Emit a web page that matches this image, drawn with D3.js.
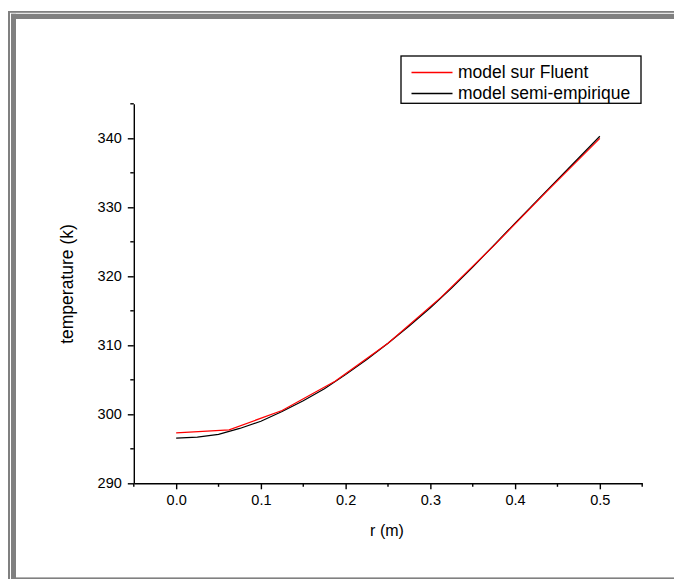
<!DOCTYPE html>
<html>
<head>
<meta charset="utf-8">
<script src="https://cdn.jsdelivr.net/npm/d3@7"></script>
<style>
  html, body { margin: 0; padding: 0; background: #fff; }
  svg { display: block; font-family: "Liberation Sans", Arial, sans-serif; }
</style>
</head>
<body>
<svg id="chart" width="674" height="579"></svg>
<script>
// Radial positions (m) and temperatures (K)
const rFluent = [0, 0.0625, 0.125, 0.1875, 0.25, 0.3125, 0.375, 0.4375, 0.5];
const tFluent = [297.3, 297.75, 300.55, 304.8, 310.3, 316.95, 324.45, 332.3, 340.0];

const rSemi = [0, 0.025, 0.05, 0.075, 0.1, 0.125, 0.15, 0.175, 0.2, 0.225, 0.25,
               0.275, 0.3, 0.325, 0.35, 0.375, 0.4, 0.425, 0.45, 0.475, 0.5];
const tSemi = [296.55, 296.7, 297.1, 297.95, 299.0, 300.4, 301.95, 303.7, 305.75, 307.95, 310.3,
               312.8, 315.45, 318.3, 321.35, 324.5, 327.7, 330.85, 334.0, 337.15, 340.3];

const xTicks = [0.0, 0.1, 0.2, 0.3, 0.4, 0.5];
const yTicks = [290, 300, 310, 320, 330, 340];
const xMinorTicks = [-0.05, 0.05, 0.15, 0.25, 0.35, 0.45, 0.55];
const yMinorTicks = [295, 305, 315, 325, 335, 345];

const seriesNames = ["model sur Fluent", "model semi-empirique"];
const seriesColors = ["#ff0000", "#000000"];

const svg = d3.select("#chart");

// Window frame
const gray = "#808080";
svg.append("rect").attr("x", 8).attr("y", 11).attr("width", 666).attr("height", 1.8).attr("fill", gray);
svg.append("rect").attr("x", 8).attr("y", 11).attr("width", 2).attr("height", 568).attr("fill", gray);
svg.append("rect").attr("x", 11).attr("y", 13.8).attr("width", 663).attr("height", 5.2).attr("fill", gray);
svg.append("rect").attr("x", 11).attr("y", 13.8).attr("width", 5).attr("height", 566).attr("fill", gray);
svg.append("rect").attr("x", 16).attr("y", 577.4).attr("width", 658).attr("height", 1.6).attr("fill", gray);

const x = d3.scaleLinear().domain([-0.05, 0.55]).range([133.8, 642.2]);
const y = d3.scaleLinear().domain([290, 345]).range([483.3, 103.8]);

const fontSize = 14.5;

// X axis
const xAxis = svg.append("g").attr("transform", `translate(0,${y(290)})`)
  .call(d3.axisBottom(x).tickValues(xTicks).tickFormat(d3.format(".1f")).tickSize(6).tickSizeOuter(0).tickPadding(5));
xAxis.append("g").selectAll("line").data(xMinorTicks).join("line")
  .attr("x1", d => x(d)).attr("x2", d => x(d)).attr("y1", 0).attr("y2", 3.5);

// Y axis
const yAxis = svg.append("g").attr("transform", `translate(${x(-0.05)},0)`)
  .call(d3.axisLeft(y).tickValues(yTicks).tickFormat(d3.format("d")).tickSize(6).tickSizeOuter(0).tickPadding(6));
yAxis.append("g").selectAll("line").data(yMinorTicks).join("line")
  .attr("x1", 0).attr("x2", -3.5).attr("y1", d => y(d)).attr("y2", d => y(d));

[xAxis, yAxis].forEach(g => {
  g.selectAll("path.domain").attr("stroke", "#000").attr("stroke-width", 1.4);
  g.selectAll("line").attr("stroke", "#000").attr("stroke-width", 1.4);
  g.selectAll("text").attr("font-size", fontSize).attr("fill", "#000")
    .attr("font-family", "'Liberation Sans', Arial, sans-serif");
});

// Axis titles
svg.append("text").attr("x", 387).attr("y", 536).attr("text-anchor", "middle")
  .attr("font-size", 16).text("r (m)");
svg.append("text").attr("transform", "translate(72.5,284) rotate(-90)").attr("text-anchor", "middle")
  .attr("font-size", 17.5).text("temperature (k)");

// Curves
const line = d3.line().x(d => x(d[0])).y(d => y(d[1]));
const semiData = rSemi.map((r, i) => [r, tSemi[i]]);
const fluentData = rFluent.map((r, i) => [r, tFluent[i]]);

svg.append("path").datum(semiData).attr("d", line)
  .attr("fill", "none").attr("stroke", seriesColors[1]).attr("stroke-width", 1.2);
svg.append("path").datum(fluentData).attr("d", line)
  .attr("fill", "none").attr("stroke", seriesColors[0]).attr("stroke-width", 1.2);

// Legend
const legend = svg.append("g");
legend.append("rect").attr("x", 401).attr("y", 56).attr("width", 240).attr("height", 47.3)
  .attr("fill", "#fff").attr("stroke", "#000").attr("stroke-width", 1.3);
seriesNames.forEach((name, i) => {
  const ly = 72.5 + i * 21;
  legend.append("line").attr("x1", 411.5).attr("x2", 452.5).attr("y1", ly).attr("y2", ly)
    .attr("stroke", seriesColors[i]).attr("stroke-width", 1.3);
  legend.append("text").attr("x", 458).attr("y", ly + 5.5).attr("font-size", 17.5).text(name);
});
</script>
</body>
</html>
